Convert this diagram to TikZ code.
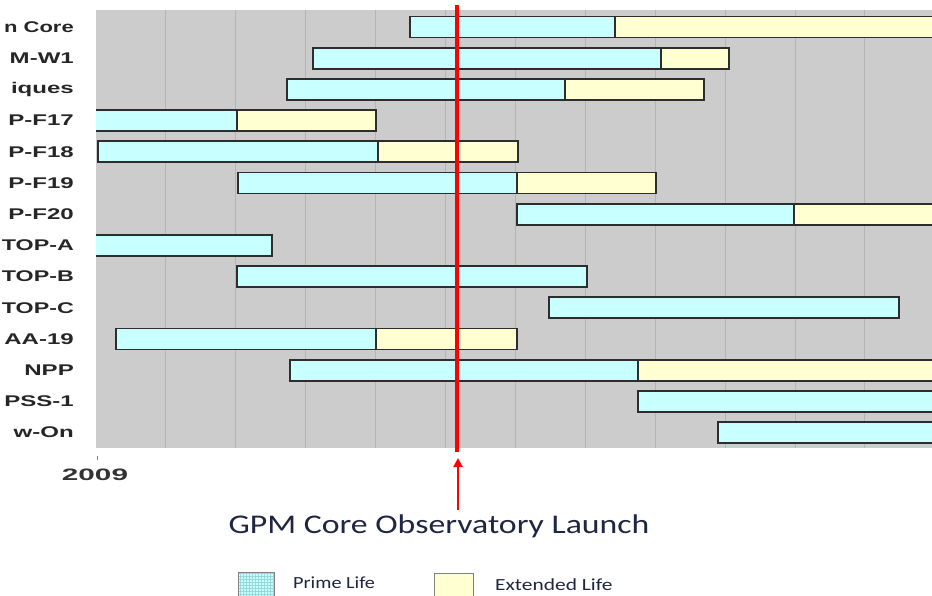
\documentclass[tikz,border=0pt]{standalone}
\usepackage{fontspec}
\setmainfont{Liberation Sans}
\newfontfamily\calfont{Carlito}
\usetikzlibrary{arrows.meta}
\definecolor{primec}{RGB}{200,255,255}
\definecolor{extc}{RGB}{255,255,210}
\definecolor{bgc}{RGB}{204,204,204}
\definecolor{gridc}{RGB}{180,180,180}
\definecolor{bord}{RGB}{45,45,45}
\definecolor{navy}{RGB}{30,38,66}
\definecolor{redl}{RGB}{255,0,0}
\begin{document}
\begin{tikzpicture}[x=1pt,y=-1pt,
  prime/.style={fill=primec,draw=bord,line width=1.8pt},
  ext/.style={fill=extc,draw=bord,line width=1.8pt},
  lab/.style={anchor=east,font=\bfseries\fontsize{15.5}{15.5}\selectfont,inner sep=0pt,text=black!85},
  gridline/.style={draw=gridc,line width=1pt},
  legtext/.style={anchor=west,font=\calfont\fontsize{17}{17}\selectfont,text=navy,inner sep=0pt}]
\useasboundingbox (0,0) rectangle (932,596);
\fill[white] (0,0) rectangle (932,596);
\fill[bgc] (96,10) rectangle (932,448);
\foreach \k in {1,...,11} {
  \draw[gridline] ({96+69.9*\k},10) -- ({96+69.9*\k},448);
}
\begin{scope}
\clip (96,10) rectangle (932,448);
\foreach \r/\a/\b/\c in {1/410/615/945, 2/313/661/729, 3/287/565/704, 4/90/237/376,
  5/98/378/518, 6/238/517/656, 7/517/794/945, 8/90/272/0, 9/237/587/0,
  10/549/899/0, 11/116/376/517, 12/290/638/945, 13/638/945/0, 14/718/945/0} {
  \pgfmathsetmacro{\yc}{27+31.2*(\r-1)}
  \ifnum\c>0
    \draw[ext] (\b,\yc-10.5) rectangle (\c,\yc+10.5);
  \fi
  \draw[prime] (\a,\yc-10.5) rectangle (\b,\yc+10.5);
}
\end{scope}
\foreach \r/\t/\s in {1/n Core/1.42, 2/M-W1/1.55, 3/iques/1.55, 4/P-F17/1.55, 5/P-F18/1.55, 6/P-F19/1.55, 7/P-F20/1.55,
  8/TOP-A/1.5, 9/TOP-B/1.5, 10/TOP-C/1.5, 11/AA-19/1.55, 12/NPP/1.55, 13/PSS-1/1.55, 14/w-On/1.55} {
  \node[lab] (lab\r) at (74,{27+31.2*(\r-1)}) {\scalebox{\s}[1]{\t}};
}
\draw[gray,line width=1pt] (97,456) -- (97,460);
\node[font=\bfseries\fontsize{16.5}{16.5}\selectfont,text=black!80,inner sep=0pt] (year) at (95,475) {\scalebox{1.8}[1]{2009}};
\draw[redl,line width=3.5pt] (457,5) -- (457,452);
\node[font=\calfont\fontsize{27}{27}\selectfont,text=navy,inner sep=0pt] (launch) at (439,526) {\scalebox{1.25}[1]{GPM Core Observatory Launch}};
\coordinate (tip) at (458,458);
\draw[redl,line width=2pt,-{Triangle[length=9pt,width=9pt]}] (tip |- 0,510) -- (tip);
\fill[primec] (238,572) rectangle (274,600);
\begin{scope}
\clip (238,572) rectangle (274,600);
\draw[primec!80!cyan!70!gray,line width=0.3pt,step=3pt] (238,572) grid (274,600);
\end{scope}
\draw[gray,line width=1pt] (238,572) rectangle (274,600);
\node (legp) at (256,586) {};
\node[legtext] (legpt) at (293,583) {\scalebox{1.19}[1]{Prime Life}};
\fill[extc] (434,573) rectangle (473,600);
\draw[gray,line width=1pt] (434,573) rectangle (473,600);
\node (lege) at (453,586) {};
\node[legtext] (legetx) at (495,585) {\scalebox{1.26}[1]{Extended Life}};
\end{tikzpicture}
\end{document}
